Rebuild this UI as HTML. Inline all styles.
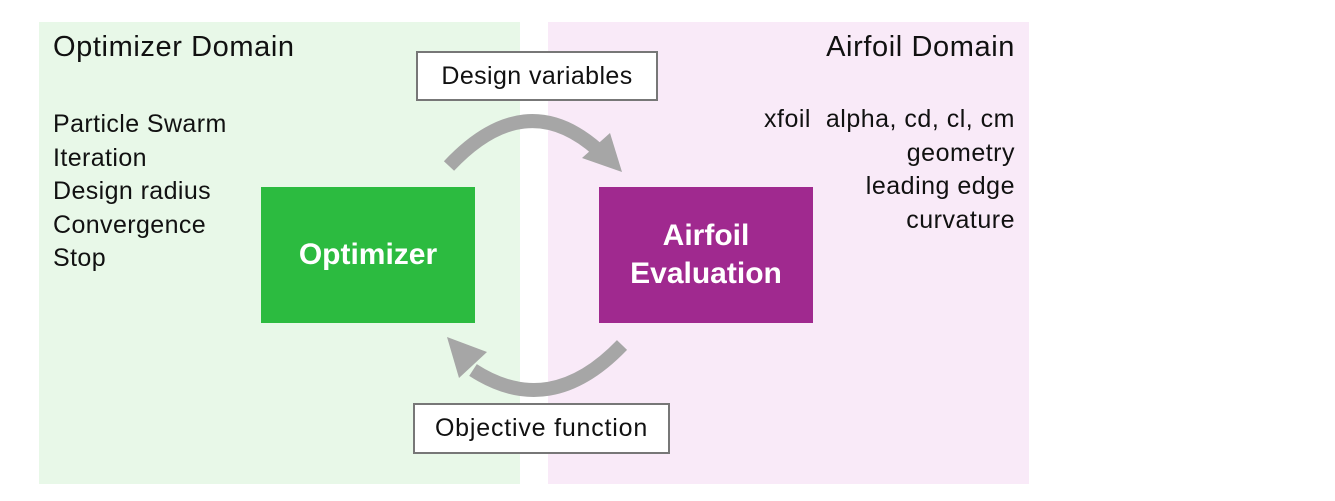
<!DOCTYPE html>
<html><head><meta charset="utf-8"><style>
body{margin:0;width:1335px;height:501px;background:#fff;position:relative;font-family:"Liberation Sans","DejaVu Sans",sans-serif;overflow:hidden}
.a{position:absolute}
.t{color:#111}
</style></head><body>
<div class="a" style="left:39px;top:22px;width:481px;height:462px;background:#e8f8e8"></div>
<div class="a" style="left:548px;top:22px;width:481px;height:462px;background:#f9eaf8"></div>
<div class="a t" style="left:53px;top:31px;font-size:29px;letter-spacing:0.6px">Optimizer Domain</div>
<div class="a t" style="left:53px;top:108px;font-size:25px;letter-spacing:0.4px;line-height:33.5px">Particle Swarm<br>Iteration<br>Design radius<br>Convergence<br>Stop</div>
<div class="a t" style="right:320px;top:31px;font-size:29px;letter-spacing:0.6px;text-align:right">Airfoil Domain</div>
<div class="a t" style="right:320px;top:103px;font-size:25px;letter-spacing:0.5px;line-height:33.5px;text-align:right">xfoil&nbsp; alpha, cd, cl, cm<br>geometry<br>leading edge<br>curvature</div>
<div class="a" style="left:261px;top:187px;width:214px;height:136px;background:#2cbb40;color:#fff;font-weight:bold;font-size:30px;display:flex;align-items:center;justify-content:center">Optimizer</div>
<div class="a" style="left:599px;top:187px;width:214px;height:136px;background:#a0298f;color:#fff;font-weight:bold;font-size:30px;display:flex;align-items:center;justify-content:center;text-align:center;line-height:38px">Airfoil<br>Evaluation</div>
<div class="a t" style="left:416px;top:51px;width:238px;height:46px;border:2px solid #777;background:#fff;font-size:25px;letter-spacing:0.4px;display:flex;align-items:center;justify-content:center">Design variables</div>
<div class="a t" style="left:413px;top:403px;width:253px;height:47px;border:2px solid #777;background:#fff;font-size:25px;letter-spacing:0.8px;display:flex;align-items:center;justify-content:center">Objective function</div>
<svg class="a" style="left:0;top:0" width="1335" height="501">
<path d="M449,166 Q525,85 598,150" fill="none" stroke="#a6a6a6" stroke-width="14"/>
<polygon points="622,172 582,158 610,133" fill="#a6a6a6"/>
<path d="M622,345 Q550,420 473,370" fill="none" stroke="#a6a6a6" stroke-width="14"/>
<polygon points="447,337 459,378 487,352" fill="#a6a6a6"/>
</svg>
</body></html>
